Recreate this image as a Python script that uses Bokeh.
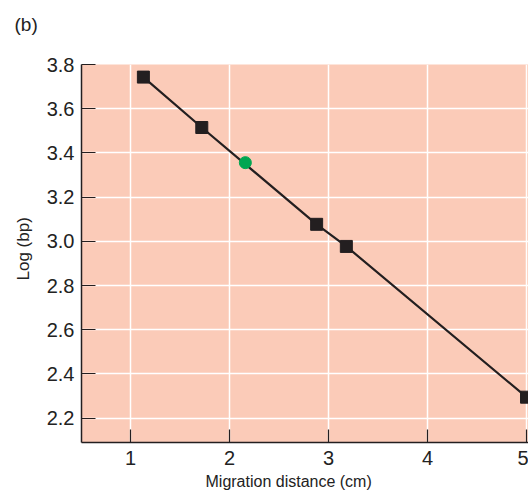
from bokeh.plotting import figure
from bokeh.models import FixedTicker, Range1d, PrintfTickFormatter, Title
from bokeh.embed import file_html
from bokeh.resources import INLINE

# data
std_dist = [1.13, 1.72, 2.88, 3.18, 5.0]
std_logbp = [3.743, 3.515, 3.077, 2.977, 2.295]
unk_dist = [2.16]
unk_logbp = [3.356]
x_ticks = [1, 2, 3, 4, 5]
y_ticks = [2.2, 2.4, 2.6, 2.8, 3.0, 3.2, 3.4, 3.6, 3.8]

FONT = "Liberation Sans"
INK = "#231f20"
TXT = "#222222"

p = figure(width=528, height=500, output_backend="svg", toolbar_location=None,
           x_range=Range1d(0.505, 5.02), y_range=Range1d(2.09, 3.8),
           min_border_left=81, min_border_right=0, min_border_top=64, min_border_bottom=58)
p.background_fill_color = "#fbcbb8"
p.border_fill_color = "white"
p.outline_line_color = None

p.xaxis.ticker = FixedTicker(ticks=x_ticks)
p.yaxis.ticker = FixedTicker(ticks=y_ticks)
p.yaxis.formatter = PrintfTickFormatter(format="%.1f")
for ax in (p.xaxis, p.yaxis):
    ax.axis_line_color = INK
    ax.axis_line_width = 1.5
    ax.major_tick_line_color = INK
    ax.major_tick_line_width = 1.2
    ax.major_tick_out = 0
    ax.minor_tick_line_color = None
    ax.major_label_text_font = FONT
    ax.major_label_text_font_size = "20px"
    ax.major_label_text_color = TXT
p.xaxis.major_tick_in = 13
p.yaxis.major_tick_in = 14
p.xaxis.major_label_standoff = 8
p.yaxis.major_label_standoff = 7

p.grid.grid_line_color = "white"
p.grid.grid_line_width = 1.5

p.line(std_dist, std_logbp, line_color=INK, line_width=2.2)
p.scatter(std_dist, std_logbp, marker="square", size=12, fill_color=INK, line_color=INK)
p.scatter(unk_dist, unk_logbp, marker="circle", size=12, fill_color="#00a651", line_color="#00a651")

p.add_layout(Title(text="Migration distance (cm)", align="left", offset=124,
                   text_font=FONT, text_font_size="16px", text_font_style="normal",
                   text_color=TXT, standoff=7), "below")
p.add_layout(Title(text="Log (bp)", align="left", offset=162,
                   text_font=FONT, text_font_size="17px", text_font_style="normal",
                   text_color=TXT, standoff=21), "left")
p.add_layout(Title(text="(b)\n ", align="left", offset=-67, vertical_align="top",
                   text_font=FONT, text_font_size="19px", text_font_style="normal",
                   text_color=TXT, standoff=14), "above")

open("out.html", "w").write(file_html(p, INLINE))
